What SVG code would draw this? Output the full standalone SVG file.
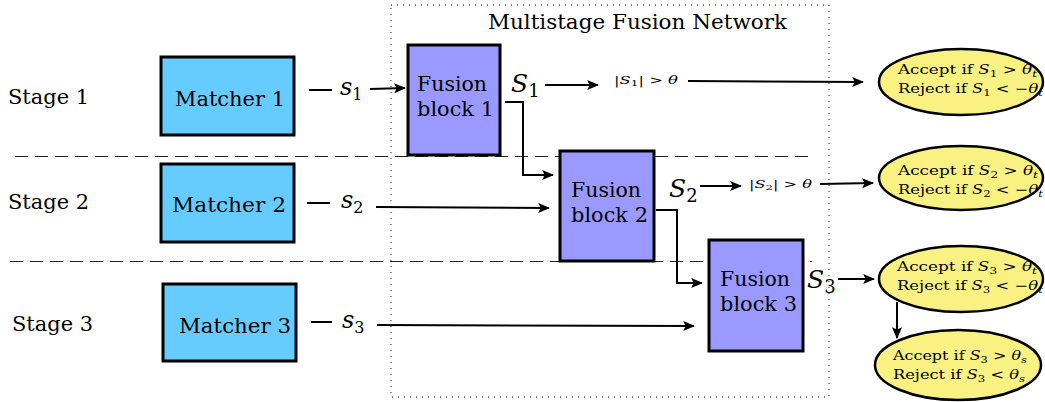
<svg xmlns="http://www.w3.org/2000/svg" width="1045" height="402" viewBox="0 0 1045 402" font-family="DejaVu Serif, Liberation Serif, serif">
<defs>
<marker id="ah2" viewBox="0 0 10 10" refX="9" refY="5" markerWidth="12" markerHeight="10" markerUnits="userSpaceOnUse" orient="auto" preserveAspectRatio="none"><path d="M0,0 L10,5 L0,10 L2,5 z" fill="#000"/></marker>
<style>
text{font-family:"DejaVu Serif","Liberation Serif",serif;fill:#000}
.lbl{font-size:20px}
.m{font-style:italic}
.matcher{fill:#66CCFF;stroke:#000;stroke-width:3}
.fusion{fill:#9999FF;stroke:#000;stroke-width:3}
.dec{fill:#F9F283;stroke:#000;stroke-width:2.5}
.conn{fill:none;stroke:#000;stroke-width:2;marker-end:url(#ah2)}
.plain{fill:none;stroke:#000;stroke-width:2}
.dash{stroke:#222;stroke-width:1;stroke-dasharray:13,7}
.small{font-size:12.5px}
.tiny{font-size:11px}
</style>
</defs>
<rect x="0" y="0" width="1045" height="402" fill="#fff"/>
<rect id="network" x="391" y="5" width="438" height="392" fill="none" stroke="#555" stroke-width="1.3" stroke-dasharray="1,5"/>
<text x="488" y="29" font-size="20" textLength="299" lengthAdjust="spacingAndGlyphs">Multistage Fusion Network</text>
<line class="dash" x1="15" y1="156.5" x2="812" y2="156.5"/>
<line class="dash" x1="10" y1="261.5" x2="812" y2="261.5"/>
<text class="lbl" x="8" y="104" textLength="81" lengthAdjust="spacingAndGlyphs">Stage 1</text>
<text class="lbl" x="8" y="209" textLength="81" lengthAdjust="spacingAndGlyphs">Stage 2</text>
<text class="lbl" x="12" y="331" textLength="81" lengthAdjust="spacingAndGlyphs">Stage 3</text>
<g id="matcher1"><rect class="matcher" x="161" y="57" width="133" height="78"/><text class="lbl" x="175" y="106" textLength="110" lengthAdjust="spacingAndGlyphs">Matcher 1</text></g>
<g id="matcher2"><rect class="matcher" x="161" y="164" width="133" height="78"/><text class="lbl" x="172" y="212" textLength="114" lengthAdjust="spacingAndGlyphs">Matcher 2</text></g>
<g id="matcher3"><rect class="matcher" x="163" y="284" width="133" height="77"/><text class="lbl" x="179" y="333" textLength="112" lengthAdjust="spacingAndGlyphs">Matcher 3</text></g>
<g id="fusion1"><rect class="fusion" x="408" y="45" width="92" height="110"/><text class="lbl" x="417" y="91" textLength="70" lengthAdjust="spacingAndGlyphs">Fusion</text><text class="lbl" x="417" y="116" textLength="77" lengthAdjust="spacingAndGlyphs">block 1</text></g>
<g id="fusion2"><rect class="fusion" x="560" y="151" width="94" height="110"/><text class="lbl" x="571" y="197" textLength="70" lengthAdjust="spacingAndGlyphs">Fusion</text><text class="lbl" x="571" y="222" textLength="77" lengthAdjust="spacingAndGlyphs">block 2</text></g>
<g id="fusion3"><rect class="fusion" x="709" y="240" width="94" height="111"/><text class="lbl" x="720" y="286" textLength="70" lengthAdjust="spacingAndGlyphs">Fusion</text><text class="lbl" x="720" y="311" textLength="77" lengthAdjust="spacingAndGlyphs">block 3</text></g>
<g id="dec1"><ellipse class="dec" cx="961" cy="82" rx="82" ry="33"/><text class="small" x="898" y="74" textLength="139" lengthAdjust="spacingAndGlyphs">Accept if <tspan class="m">S</tspan><tspan font-size="9" dy="3">1</tspan><tspan dy="-3"> &gt; </tspan><tspan class="m">θ</tspan><tspan class="m" font-size="9" dy="3">t</tspan></text><text class="small" x="898" y="93" textLength="145" lengthAdjust="spacingAndGlyphs">Reject if <tspan class="m">S</tspan><tspan font-size="9" dy="3">1</tspan><tspan dy="-3"> &lt; −</tspan><tspan class="m">θ</tspan><tspan class="m" font-size="9" dy="3">t</tspan></text></g>
<g id="dec2"><ellipse class="dec" cx="961" cy="178" rx="82" ry="32"/><text class="small" x="898" y="175" textLength="140" lengthAdjust="spacingAndGlyphs">Accept if <tspan class="m">S</tspan><tspan font-size="9" dy="3">2</tspan><tspan dy="-3"> &gt; </tspan><tspan class="m">θ</tspan><tspan class="m" font-size="9" dy="3">t</tspan></text><text class="small" x="898" y="194" textLength="145" lengthAdjust="spacingAndGlyphs">Reject if <tspan class="m">S</tspan><tspan font-size="9" dy="3">2</tspan><tspan dy="-3"> &lt; −</tspan><tspan class="m">θ</tspan><tspan class="m" font-size="9" dy="3">t</tspan></text></g>
<g id="dec3"><ellipse class="dec" cx="961" cy="279" rx="82" ry="33"/><text class="small" x="897" y="271" textLength="140" lengthAdjust="spacingAndGlyphs">Accept if <tspan class="m">S</tspan><tspan font-size="9" dy="3">3</tspan><tspan dy="-3"> &gt; </tspan><tspan class="m">θ</tspan><tspan class="m" font-size="9" dy="3">t</tspan></text><text class="small" x="897" y="290" textLength="146" lengthAdjust="spacingAndGlyphs">Reject if <tspan class="m">S</tspan><tspan font-size="9" dy="3">3</tspan><tspan dy="-3"> &lt; −</tspan><tspan class="m">θ</tspan><tspan class="m" font-size="9" dy="3">t</tspan></text></g>
<g id="dec4"><ellipse class="dec" cx="958" cy="365" rx="83" ry="35"/><text class="small" x="893" y="360" textLength="134" lengthAdjust="spacingAndGlyphs">Accept if <tspan class="m">S</tspan><tspan font-size="9" dy="3">3</tspan><tspan dy="-3"> &gt; </tspan><tspan class="m">θ</tspan><tspan class="m" font-size="9" dy="3">s</tspan></text><text class="small" x="893" y="379" textLength="132" lengthAdjust="spacingAndGlyphs">Reject if <tspan class="m">S</tspan><tspan font-size="9" dy="3">3</tspan><tspan dy="-3"> &lt; </tspan><tspan class="m">θ</tspan><tspan class="m" font-size="9" dy="3">s</tspan></text></g>
<g id="connectors">
<line class="plain" x1="309" y1="90" x2="332" y2="90"/>
<text x="340" y="95" font-size="24"><tspan class="m">s</tspan><tspan font-size="16" dy="5">1</tspan></text>
<line class="conn" x1="370" y1="89" x2="405" y2="88"/>
<line class="plain" x1="307" y1="203" x2="330" y2="203"/>
<text x="341" y="208" font-size="24"><tspan class="m">s</tspan><tspan font-size="16" dy="5">2</tspan></text>
<line class="conn" x1="376" y1="207" x2="549" y2="208"/>
<line class="plain" x1="311" y1="322" x2="332" y2="322"/>
<text x="342" y="328" font-size="24"><tspan class="m">s</tspan><tspan font-size="16" dy="5">3</tspan></text>
<line class="conn" x1="377" y1="325" x2="694" y2="326"/>
<text x="511" y="92" font-size="25"><tspan class="m">S</tspan><tspan font-size="18" dy="5">1</tspan></text>
<line class="conn" x1="545" y1="85" x2="598" y2="85"/>
<text class="tiny" x="614" y="84" textLength="64" lengthAdjust="spacingAndGlyphs">|<tspan class="m">S</tspan><tspan font-size="8" dy="2">1</tspan><tspan dy="-2">| &gt; </tspan><tspan class="m">θ</tspan></text>
<line class="conn" x1="688" y1="81" x2="863" y2="82"/>
<polyline class="conn" points="505,102 523,102 523,175 553,175"/>
<text x="669" y="197" font-size="25"><tspan class="m">S</tspan><tspan font-size="18" dy="5">2</tspan></text>
<line class="conn" x1="700" y1="186" x2="741" y2="186"/>
<text class="tiny" x="749" y="188" textLength="63" lengthAdjust="spacingAndGlyphs">|<tspan class="m">S</tspan><tspan font-size="8" dy="2">2</tspan><tspan dy="-2">| &gt; </tspan><tspan class="m">θ</tspan></text>
<line class="conn" x1="820" y1="184" x2="873" y2="183"/>
<polyline class="conn" points="656,210 677,210 677,283 702,283"/>
<text x="807" y="288" font-size="25"><tspan class="m">S</tspan><tspan font-size="18" dy="5">3</tspan></text>
<line class="conn" x1="838" y1="279" x2="874" y2="279"/>
<line class="conn" x1="897" y1="302" x2="897" y2="338"/>
</g>
</svg>
